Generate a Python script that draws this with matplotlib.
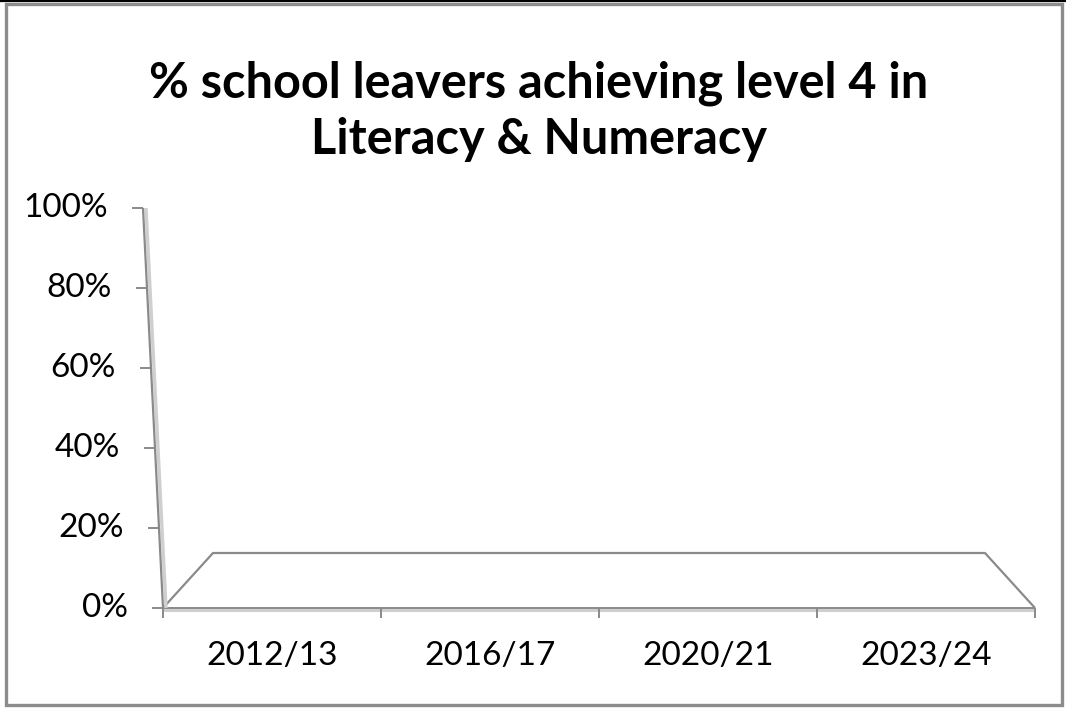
import numpy as np
import matplotlib
matplotlib.use("Agg")
import matplotlib.pyplot as plt
from matplotlib.lines import Line2D
from matplotlib.patches import Rectangle

# ---- data ----
categories = ["2012/13", "2016/17", "2020/21", "2023/24"]
pct_level4 = [np.nan, np.nan, np.nan, np.nan]   # chart shows no values
y_ticks = [0.0, 0.2, 0.4, 0.6, 0.8, 1.0]
y_tick_labels = ["0%", "20%", "40%", "60%", "80%", "100%"]
title_lines = ["% school leavers achieving level 4 in", "Literacy & Numeracy"]

W, H, DPI = 1066, 709, 100
fig = plt.figure(figsize=(W / DPI, H / DPI), dpi=DPI)
fig.patch.set_facecolor("white")

# outer frame
fig.add_artist(Rectangle((6 / W, 4 / H), 1056 / W, 701 / H, transform=fig.transFigure,
                         fill=False, edgecolor="#8c8c8c", linewidth=2.4))
fig.add_artist(Line2D([0, 1], [1 - 1 / H, 1 - 1 / H], transform=fig.transFigure,
                      color="black", linewidth=1.6))

# plot area (front plane)
x0, x1 = 163, 1035
y_bot, y_top = 608, 208
ax = fig.add_axes([x0 / W, (H - y_bot) / H, (x1 - x0) / W, (y_bot - y_top) / H])
ax.set_xlim(-0.5, len(categories) - 0.5)
ax.set_ylim(0, 1)
ax.axis("off")

xs = np.arange(len(categories))
ax.plot(xs, pct_level4, color="#4f81bd")

unit = (x1 - x0) / len(categories)          # pixels per category
slant = -20 / unit                          # x shift of wall axis per unit of y
depth = 0.1375                              # floor depth in y units
inset = 50 / unit                           # floor back inset in x units
left, right = -0.5, len(categories) - 0.5
gray = "#8a8a8a"
light = "#cfcfcf"

kw = dict(clip_on=False, solid_capstyle="butt")
# floor
ax.plot([left, right], [-0.004, -0.004], color=light, lw=2.2, **kw)
ax.plot([left, right], [0, 0], color=gray, lw=1.4, **kw)
ax.plot([left, left + inset, right - inset, right], [0, depth, depth, 0], color=gray, lw=1.6, **kw)
# vertical (value) axis, slanted
ax.plot([left + 3 / unit, left + slant + 3 / unit], [0, 1], color=light, lw=2.4, **kw)
ax.plot([left, left + slant], [0, 1], color=gray, lw=1.6, **kw)

# value ticks and labels
for v, lab in zip(y_ticks, y_tick_labels):
    xa = left + slant * v
    ax.plot([xa - 11 / unit, xa], [v, v], color=gray, lw=1.4, **kw)
    ax.text(xa - 35 / unit, v, lab, ha="right", va="center", fontsize=24,
            family="Lato", color="black", clip_on=False)

# category ticks and labels
for i in range(len(categories) + 1):
    ax.plot([left + i, left + i], [0, -0.025], color=gray, lw=1.4, **kw)
for x, lab in zip(xs, categories):
    ax.text(x, -0.12, lab, ha="center", va="center", fontsize=24,
            family="Lato", color="black", clip_on=False)

for line, yc in zip(title_lines, [83, 140]):
    fig.text(539 / W, 1 - yc / H, line, ha="center", va="center", fontsize=35,
             fontweight="bold", family="Lato")

fig.savefig("out.png", dpi=DPI)
